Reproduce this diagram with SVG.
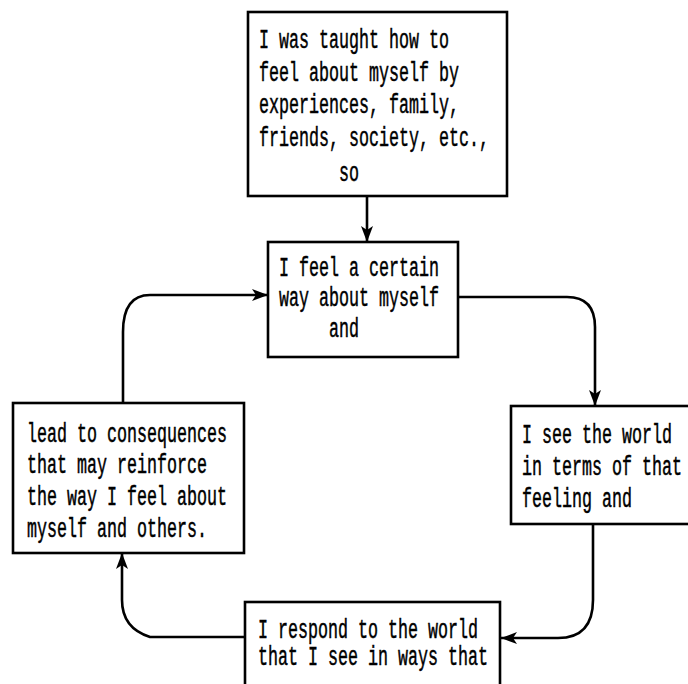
<svg xmlns="http://www.w3.org/2000/svg" width="688" height="684" viewBox="0 0 688 684">
<style>
  .box { fill: #fff; stroke: #000; stroke-width: 2.6; }
  .t { font-family: "Liberation Mono", "DejaVu Sans Mono", monospace; font-size: 27px; fill: #000; stroke: #000; stroke-width: 0.5; }
  .c { fill: none; stroke: #000; stroke-width: 2.6; }
</style>
<defs>
  <marker id="ah" viewBox="0 0 16 12" refX="16" refY="6" markerWidth="16" markerHeight="12" markerUnits="userSpaceOnUse" orient="auto">
    <path d="M0,0 L16,6 L0,12 L4,6 z" fill="#000"/>
  </marker>
</defs>
<rect width="688" height="684" fill="#fff"/>
<g id="connectors">
  <path class="c" d="M367,196 L367,242" marker-end="url(#ah)"/>
  <path class="c" d="M458,297 L567,297 Q595,297 595,327 L595,406" marker-end="url(#ah)"/>
  <path class="c" d="M593,524 L593,600 Q593,638 558,638 L501,638" marker-end="url(#ah)"/>
  <path class="c" d="M245,637 L150,637 C128,630 122,615 122,600 L122,553" marker-end="url(#ah)"/>
  <path class="c" d="M123,403 L123,332 Q123,295 150,295 L268,295" marker-end="url(#ah)"/>
</g>
<g id="n-taught">
  <rect class="box" x="248" y="12" width="259" height="184"/>
  <text class="t" x="259" y="48" textLength="190" lengthAdjust="spacingAndGlyphs">I was taught how to</text>
  <text class="t" x="259" y="81" textLength="200" lengthAdjust="spacingAndGlyphs">feel about myself by</text>
  <text class="t" x="259" y="113" textLength="200" lengthAdjust="spacingAndGlyphs">experiences, family,</text>
  <text class="t" x="259" y="146" textLength="230" lengthAdjust="spacingAndGlyphs">friends, society, etc.,</text>
  <text class="t" x="339" y="181" textLength="20" lengthAdjust="spacingAndGlyphs">so</text>
</g>
<g id="n-feel">
  <rect class="box" x="268" y="242" width="190" height="115"/>
  <text class="t" x="279" y="276" textLength="160" lengthAdjust="spacingAndGlyphs">I feel a certain</text>
  <text class="t" x="279" y="306" textLength="160" lengthAdjust="spacingAndGlyphs">way about myself</text>
  <text class="t" x="329" y="337" textLength="30" lengthAdjust="spacingAndGlyphs">and</text>
</g>
<g id="n-see">
  <rect class="box" x="511" y="406" width="200" height="118"/>
  <text class="t" x="522" y="443" textLength="150" lengthAdjust="spacingAndGlyphs">I see the world</text>
  <text class="t" x="522" y="475" textLength="160" lengthAdjust="spacingAndGlyphs">in terms of that</text>
  <text class="t" x="522" y="507" textLength="110" lengthAdjust="spacingAndGlyphs">feeling and</text>
</g>
<g id="n-respond">
  <rect class="box" x="245" y="602" width="255" height="100"/>
  <text class="t" x="258" y="638" textLength="220" lengthAdjust="spacingAndGlyphs">I respond to the world</text>
  <text class="t" x="258" y="665" textLength="230" lengthAdjust="spacingAndGlyphs">that I see in ways that</text>
</g>
<g id="n-lead">
  <rect class="box" x="13" y="403" width="231" height="150"/>
  <text class="t" x="27" y="442" textLength="200" lengthAdjust="spacingAndGlyphs">lead to consequences</text>
  <text class="t" x="27" y="473" textLength="180" lengthAdjust="spacingAndGlyphs">that may reinforce</text>
  <text class="t" x="27" y="505" textLength="200" lengthAdjust="spacingAndGlyphs">the way I feel about</text>
  <text class="t" x="27" y="537" textLength="180" lengthAdjust="spacingAndGlyphs">myself and others.</text>
</g>
</svg>
